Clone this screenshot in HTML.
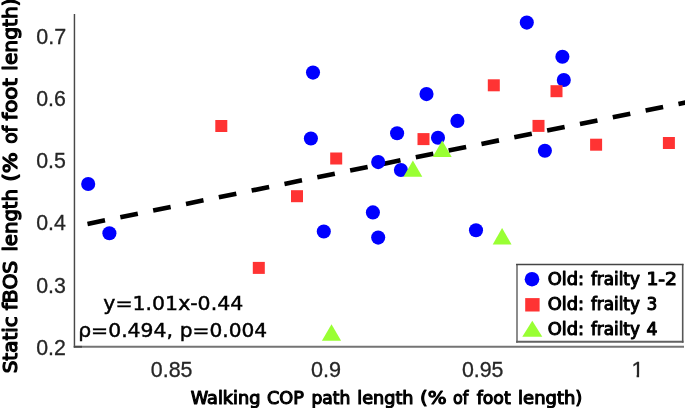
<!DOCTYPE html>
<html><head><meta charset="utf-8"><title>Static fBOS length vs Walking COP path length</title>
<style>
html,body{margin:0;padding:0;background:#fff;}
svg{display:block;}
.tick{font-family:"Liberation Sans",sans-serif;font-size:22px;fill:#262626;stroke:#262626;stroke-width:0.3px;}
.lab{font-family:"DejaVu Sans",sans-serif;font-size:16.9px;fill:#000;stroke:#000;stroke-width:1.1px;stroke-linejoin:round;}
.ylab{font-family:"DejaVu Sans",sans-serif;font-size:19.6px;fill:#000;stroke:#000;stroke-width:1.25px;stroke-linejoin:round;}
.leg{font-family:"DejaVu Sans",sans-serif;font-size:16.8px;fill:#000;stroke:#000;stroke-width:1.05px;stroke-linejoin:round;}
.ann{font-family:"DejaVu Sans",sans-serif;font-size:19.8px;fill:#000;stroke:#000;stroke-width:0.45px;}
</style></head><body>
<svg width="685" height="408" viewBox="0 0 685 408">
<rect x="0" y="0" width="685" height="408" fill="#ffffff"/>
<line x1="74.45" y1="13.9" x2="74.45" y2="347.6" stroke="#484848" stroke-width="1.45"/>
<line x1="73.8" y1="346.75" x2="684" y2="346.75" stroke="#747474" stroke-width="1.8"/>
<line x1="73.8" y1="346.75" x2="82" y2="346.75" stroke="#484848" stroke-width="1.8"/>
<line x1="87.5" y1="223.9" x2="688" y2="102.00" stroke="#000" stroke-width="4.6" stroke-dasharray="17.86 15.64"/>
<circle cx="88.2" cy="184.0" r="7.05" fill="#0000ff"/>
<circle cx="109.4" cy="233.2" r="7.05" fill="#0000ff"/>
<circle cx="313.0" cy="72.6" r="7.05" fill="#0000ff"/>
<circle cx="310.9" cy="138.5" r="7.05" fill="#0000ff"/>
<circle cx="323.8" cy="231.5" r="7.05" fill="#0000ff"/>
<circle cx="378.2" cy="162.1" r="7.05" fill="#0000ff"/>
<circle cx="372.9" cy="212.4" r="7.05" fill="#0000ff"/>
<circle cx="378.2" cy="237.6" r="7.05" fill="#0000ff"/>
<circle cx="397.1" cy="133.2" r="7.05" fill="#0000ff"/>
<circle cx="400.9" cy="170.0" r="7.05" fill="#0000ff"/>
<circle cx="426.5" cy="94.1" r="7.05" fill="#0000ff"/>
<circle cx="438.0" cy="137.8" r="7.05" fill="#0000ff"/>
<circle cx="457.4" cy="120.9" r="7.05" fill="#0000ff"/>
<circle cx="476.0" cy="230.2" r="7.05" fill="#0000ff"/>
<circle cx="526.8" cy="22.6" r="7.05" fill="#0000ff"/>
<circle cx="544.9" cy="150.8" r="7.05" fill="#0000ff"/>
<circle cx="562.4" cy="56.8" r="7.05" fill="#0000ff"/>
<circle cx="563.8" cy="80.0" r="7.05" fill="#0000ff"/>
<rect x="215.3" y="120.0" width="12" height="12" fill="#ff3333"/>
<rect x="252.8" y="261.9" width="12" height="12" fill="#ff3333"/>
<rect x="291.0" y="190.2" width="12" height="12" fill="#ff3333"/>
<rect x="330.2" y="152.5" width="12" height="12" fill="#ff3333"/>
<rect x="417.5" y="133.1" width="12" height="12" fill="#ff3333"/>
<rect x="487.8" y="79.3" width="12" height="12" fill="#ff3333"/>
<rect x="532.5" y="119.9" width="12" height="12" fill="#ff3333"/>
<rect x="550.5" y="85.2" width="12" height="12" fill="#ff3333"/>
<rect x="590.1" y="138.7" width="12" height="12" fill="#ff3333"/>
<rect x="662.9" y="137.0" width="12" height="12" fill="#ff3333"/>
<polygon points="331.5,324.3 341.1,340.8 321.9,340.8" fill="#99ff33"/>
<polygon points="412.9,160.5 422.29999999999995,176.8 403.5,176.8" fill="#99ff33"/>
<polygon points="442.2,140.5 451.7,156.9 432.7,156.9" fill="#99ff33"/>
<polygon points="502.1,227.9 511.5,244.5 492.70000000000005,244.5" fill="#99ff33"/>
<text class="tick" x="36.22" y="43.70" textLength="29.88" lengthAdjust="spacingAndGlyphs">0.7</text>
<text class="tick" x="36.22" y="105.95" textLength="29.66" lengthAdjust="spacingAndGlyphs">0.6</text>
<text class="tick" x="36.22" y="168.20" textLength="29.66" lengthAdjust="spacingAndGlyphs">0.5</text>
<text class="tick" x="36.22" y="230.45" textLength="29.66" lengthAdjust="spacingAndGlyphs">0.4</text>
<text class="tick" x="36.22" y="292.70" textLength="29.66" lengthAdjust="spacingAndGlyphs">0.3</text>
<text class="tick" x="36.22" y="354.95" textLength="29.66" lengthAdjust="spacingAndGlyphs">0.2</text>
<text class="tick" x="150.82" y="377.30" textLength="41.66" lengthAdjust="spacingAndGlyphs">0.85</text>
<text class="tick" x="310.92" y="377.30" textLength="30.06" lengthAdjust="spacingAndGlyphs">0.9</text>
<text class="tick" x="461.92" y="377.30" textLength="41.56" lengthAdjust="spacingAndGlyphs">0.95</text>
<clipPath id="c1"><rect x="628" y="355" width="20" height="19.8"/><rect x="636.65" y="374" width="2.45" height="6"/></clipPath>
<text class="tick" x="631.4" y="377.05" clip-path="url(#c1)">1</text>
<rect x="517" y="264.5" width="165.7" height="77.3" fill="#fff"/>
<line x1="517" y1="263.9" x2="517" y2="342.7" stroke="#808080" stroke-width="1.8"/>
<line x1="516.1" y1="341.8" x2="683.5" y2="341.8" stroke="#626262" stroke-width="1.9"/>
<line x1="682.7" y1="263.9" x2="682.7" y2="342.7" stroke="#565656" stroke-width="1.6"/>
<line x1="516.1" y1="264.5" x2="683.5" y2="264.5" stroke="#444444" stroke-width="1.3"/>
<circle cx="532" cy="279.2" r="7.3" fill="#0000ff"/>
<rect x="525.2" y="298.1" width="14.4" height="13.4" fill="#ff3333"/>
<polygon points="532.3,320.7 542.3,336.7 522.3,336.7" fill="#99ff33"/>
<text class="lab" y="403.5"><tspan x="190.70" textLength="69.70" lengthAdjust="spacingAndGlyphs">Walking</tspan> <tspan x="267.00" textLength="36.90" lengthAdjust="spacingAndGlyphs">COP</tspan> <tspan x="311.40" textLength="39.00" lengthAdjust="spacingAndGlyphs">path</tspan> <tspan x="357.30" textLength="56.20" lengthAdjust="spacingAndGlyphs">length</tspan> <tspan x="419.90" textLength="26.60" lengthAdjust="spacingAndGlyphs">(%</tspan> <tspan x="453.00" textLength="15.40" lengthAdjust="spacingAndGlyphs">of</tspan> <tspan x="476.70" textLength="34.00" lengthAdjust="spacingAndGlyphs">foot</tspan> <tspan x="518.10" textLength="64.30" lengthAdjust="spacingAndGlyphs">length)</tspan></text>
<text class="ylab" transform="translate(17.2,0) rotate(-90)" y="0"><tspan x="-373.30" textLength="57.00" lengthAdjust="spacingAndGlyphs">Static</tspan> <tspan x="-310.30" textLength="49.50" lengthAdjust="spacingAndGlyphs">fBOS</tspan> <tspan x="-251.60" textLength="62.60" lengthAdjust="spacingAndGlyphs">length</tspan> <tspan x="-181.80" textLength="29.60" lengthAdjust="spacingAndGlyphs">(%</tspan> <tspan x="-143.70" textLength="17.80" lengthAdjust="spacingAndGlyphs">of</tspan> <tspan x="-120.40" textLength="42.30" lengthAdjust="spacingAndGlyphs">foot</tspan> <tspan x="-70.70" textLength="72.28" lengthAdjust="spacingAndGlyphs">length)</tspan></text>
<text class="leg" y="284.5"><tspan x="547.70" textLength="36.30" lengthAdjust="spacingAndGlyphs">Old:</tspan> <tspan x="590.90" textLength="49.00" lengthAdjust="spacingAndGlyphs">frailty</tspan> <tspan x="646.40" textLength="30.70" lengthAdjust="spacingAndGlyphs">1-2</tspan></text>
<text class="leg" y="309.7"><tspan x="547.70" textLength="36.30" lengthAdjust="spacingAndGlyphs">Old:</tspan> <tspan x="590.90" textLength="49.00" lengthAdjust="spacingAndGlyphs">frailty</tspan> <tspan x="646.70" textLength="10.50" lengthAdjust="spacingAndGlyphs">3</tspan></text>
<text class="leg" y="335.0"><tspan x="547.70" textLength="36.30" lengthAdjust="spacingAndGlyphs">Old:</tspan> <tspan x="590.90" textLength="49.00" lengthAdjust="spacingAndGlyphs">frailty</tspan> <tspan x="646.60" textLength="11.00" lengthAdjust="spacingAndGlyphs">4</tspan></text>
<text class="ann" y="309.5"><tspan x="103.30" textLength="139.90" lengthAdjust="spacingAndGlyphs">y=1.01x-0.44</tspan></text>
<text class="ann" y="337.2"><tspan x="78.20" textLength="94.80" lengthAdjust="spacingAndGlyphs">ρ=0.494,</tspan> <tspan x="179.80" textLength="87.40" lengthAdjust="spacingAndGlyphs">p=0.004</tspan></text>
</svg></body></html>
